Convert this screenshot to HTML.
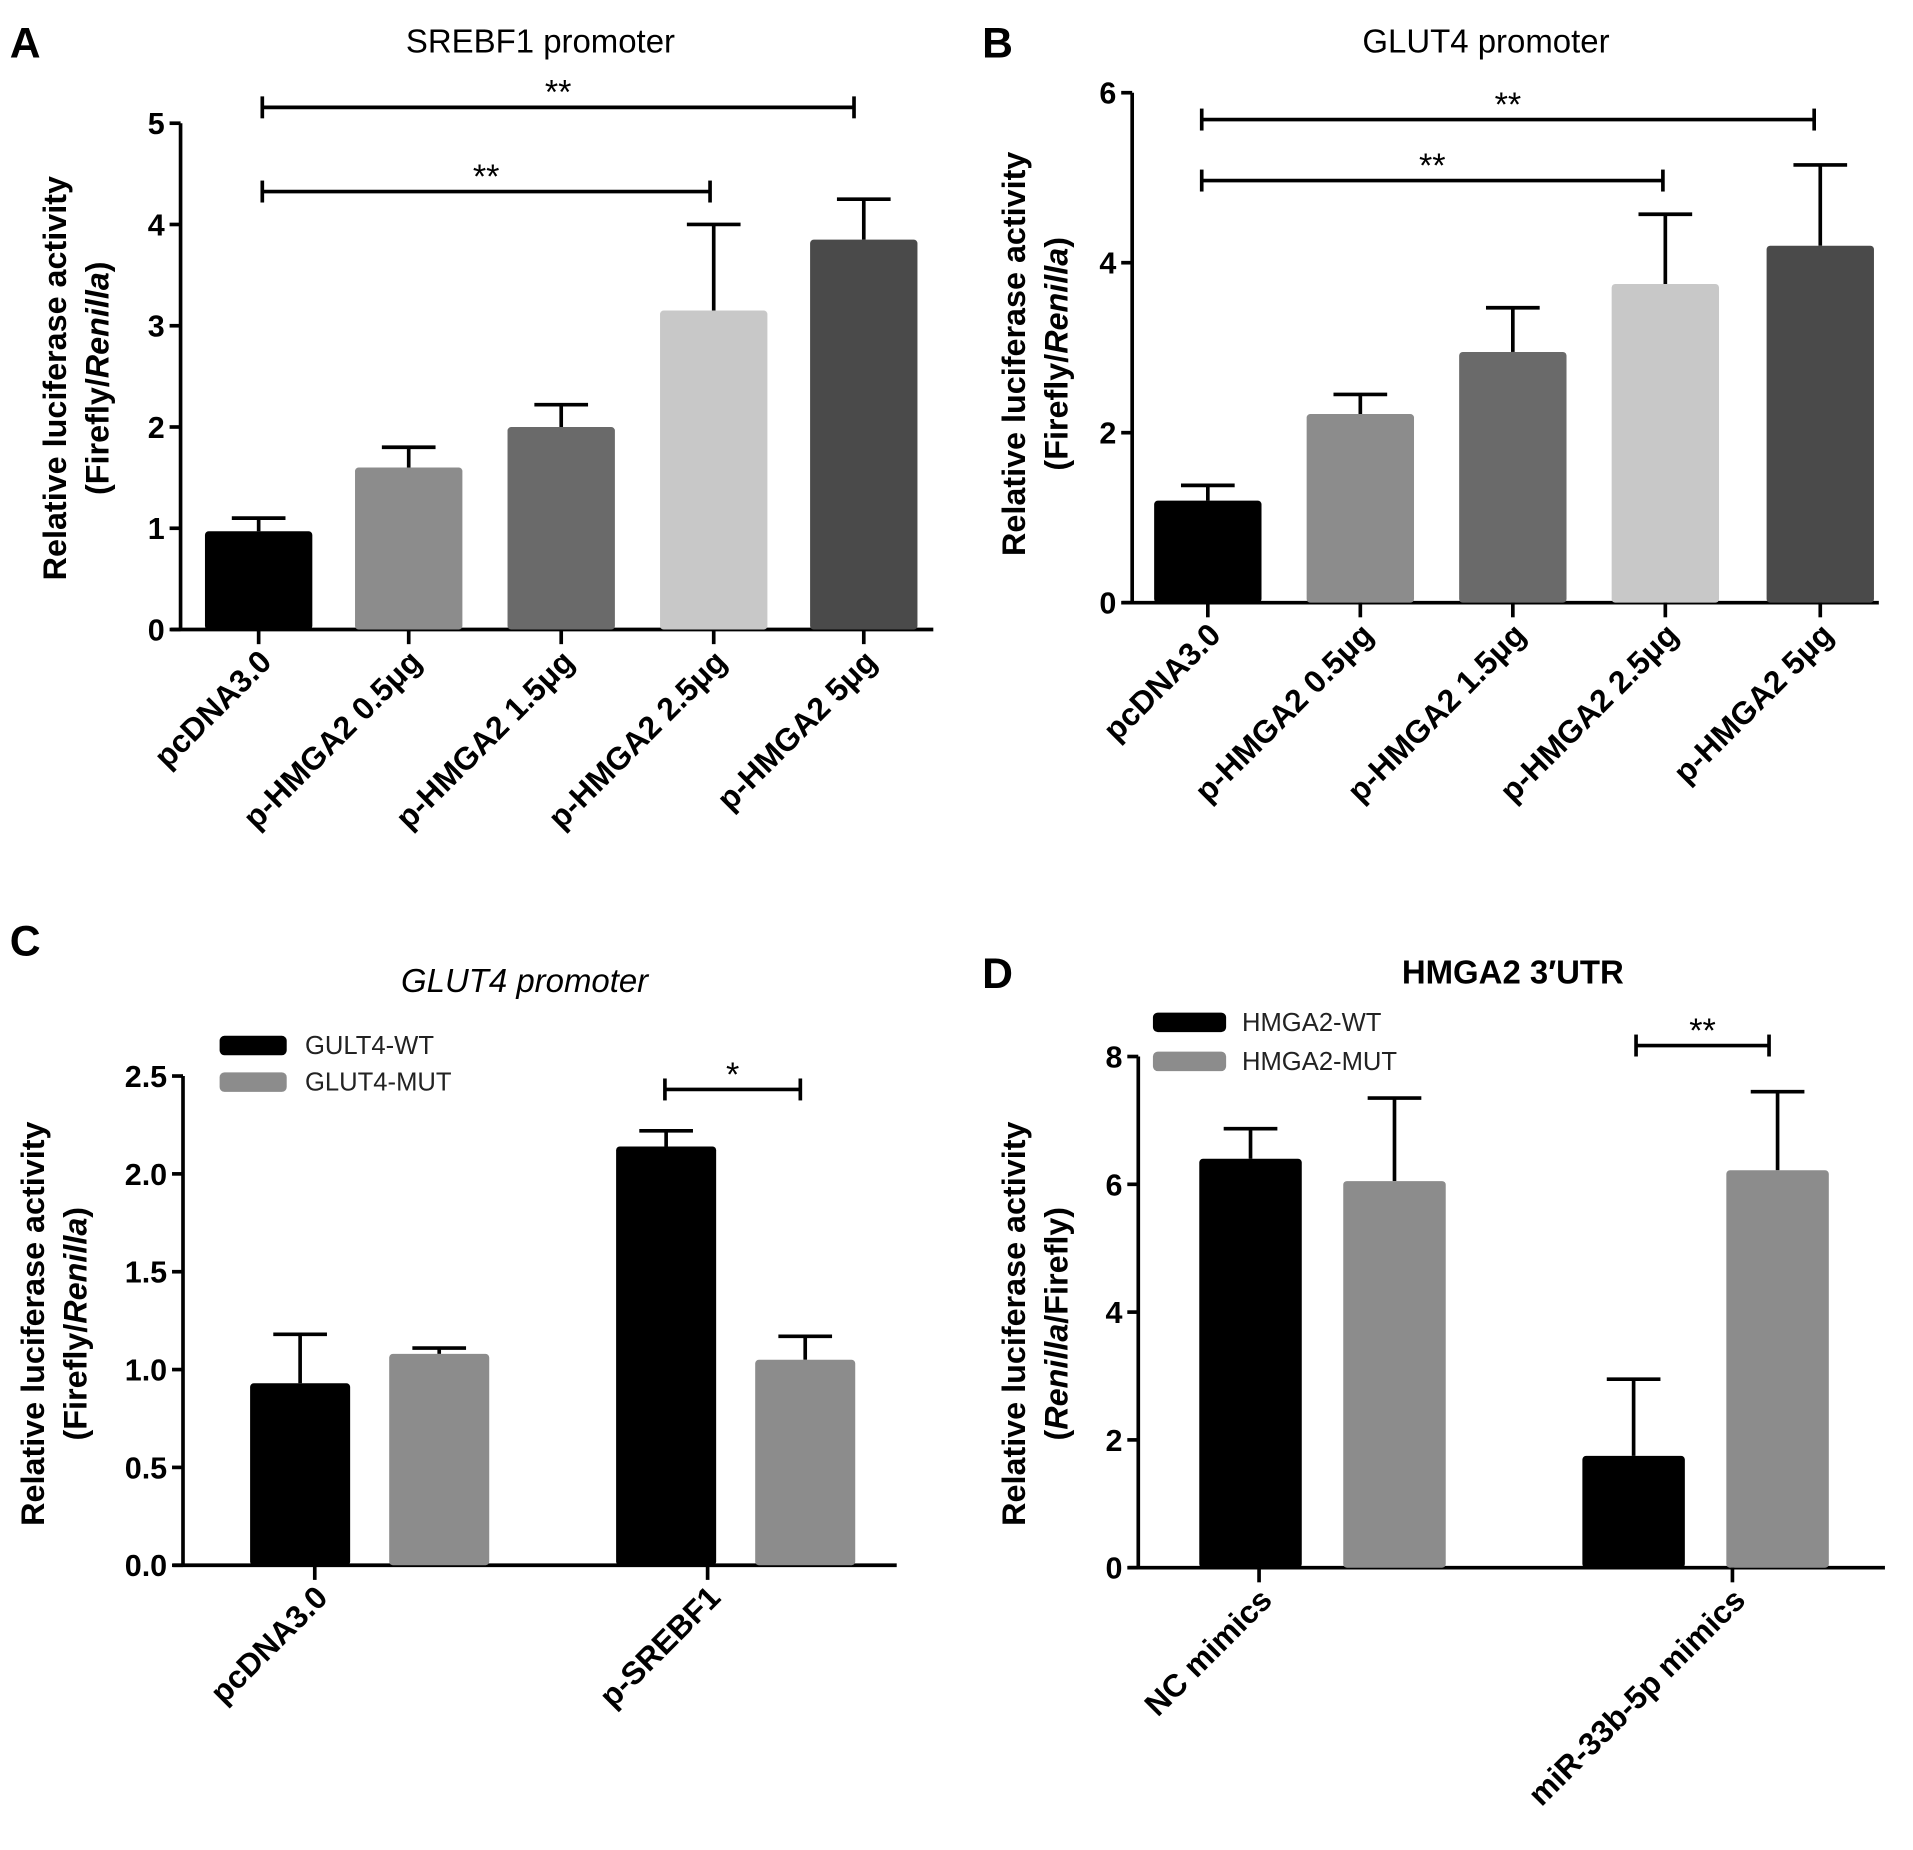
<!DOCTYPE html>
<html><head><meta charset="utf-8"><style>
html,body{margin:0;padding:0;background:#fff}
svg{display:block;font-family:"Liberation Sans",Arial,sans-serif}
</style></head><body>
<svg id="fig" width="1913" height="1850" viewBox="0 0 1568 1516.4" preserveAspectRatio="none" xmlns="http://www.w3.org/2000/svg"></svg>
<script>
// Panel A data
const aCats=["pcDNA3.0","p-HMGA2 0.5\u03bcg","p-HMGA2 1.5\u03bcg","p-HMGA2 2.5\u03bcg","p-HMGA2 5\u03bcg"];
const aVals=[0.97,1.6,2.0,3.15,3.85];
const aErr=[0.13,0.2,0.22,0.85,0.4];
const aTicks=[0,1,2,3,4,5];
// Panel B data
const bCats=["pcDNA3.0","p-HMGA2 0.5\u03bcg","p-HMGA2 1.5\u03bcg","p-HMGA2 2.5\u03bcg","p-HMGA2 5\u03bcg"];
const bVals=[1.2,2.22,2.95,3.75,4.2];
const bErr=[0.18,0.23,0.52,0.82,0.95];
const bTicks=[0,2,4,6];
// Panel C data
const cCats=["pcDNA3.0","p-SREBF1"];
const cWT=[0.93,2.14];
const cWTErr=[0.25,0.08];
const cMUT=[1.08,1.05];
const cMUTErr=[0.03,0.12];
const cTicks=["0.0","0.5","1.0","1.5","2.0","2.5"];
// Panel D data
const dCats=["NC  mimics","miR-33b-5p mimics"];
const dWT=[6.4,1.75];
const dWTErr=[0.47,1.2];
const dMUT=[6.05,6.22];
const dMUTErr=[1.3,1.23];
const dTicks=[0,2,4,6,8];

const svg=document.getElementById('fig');
const NS="http://www.w3.org/2000/svg";
function mk(tag,attrs,parent){const e=document.createElementNS(NS,tag);for(const k in attrs)e.setAttribute(k,attrs[k]);(parent||svg).appendChild(e);return e;}
function txt(s,attrs,parent){const e=mk('text',attrs,parent);e.textContent=s;return e;}

function panel(cfg){
  const g=mk('g',{});
  
  
  const y=v=>cfg.y0-(v-cfg.min)/(cfg.max-cfg.min)*(cfg.y0-cfg.ytop);
  const L=txt(cfg.letter,{x:cfg.lx,y:cfg.ly,'font-size':35,'font-weight':'bold'},g);
  
  const T=txt(cfg.title,{x:cfg.tx,y:cfg.ty,'font-size':27,'text-anchor':'middle','font-weight':cfg.titleBold?'bold':'normal','font-style':cfg.titleItalic?'italic':'normal'},g);
  
  const ya=mk('line',{x1:cfg.ax,y1:cfg.ytop,x2:cfg.ax,y2:cfg.y0,stroke:'#000','stroke-width':3},g);
  
  const xa=mk('line',{x1:cfg.ax-8,y1:cfg.y0,x2:cfg.axEnd,y2:cfg.y0,stroke:'#000','stroke-width':3},g);
  
  cfg.ticks.forEach(t=>{
    const v=parseFloat(t);
    mk('line',{x1:cfg.ax-9,y1:y(v),x2:cfg.ax,y2:y(v),stroke:'#000','stroke-width':3},g);
    const tl=txt(String(t),{x:cfg.ax-13,y:y(v)+9,'font-size':25,'font-weight':'bold','text-anchor':'end'},g);
    
  });
  const yt=mk('text',{transform:`translate(${cfg.ytx},${cfg.yty}) rotate(-90)`,'font-size':26.5,'font-weight':'bold','text-anchor':'middle'},g);
  
  const t1=mk('tspan',{x:0,y:0},yt);t1.textContent='Relative luciferase activity';
  const t2=mk('tspan',{x:0,y:35},yt);
  cfg.ysub.forEach(p=>{const s=mk('tspan',p[1]?{'font-style':'italic'}:{},t2);s.textContent=p[0];});
  cfg.series.forEach(s=>{
    s.vals.forEach((v,i)=>{
      const cx=s.centers[i];
      const top=y(v+s.err[i]);
      const eb=mk('line',{x1:cx,y1:y(v),x2:cx,y2:top,stroke:'#000','stroke-width':3},g);
      
      mk('line',{x1:cx-22,y1:top,x2:cx+22,y2:top,stroke:'#000','stroke-width':3},g);
      const r=mk('rect',{x:cx-cfg.bw/2,y:y(v),width:cfg.bw,height:cfg.y0-y(v),fill:s.colors[i]||s.colors[0],rx:3},g);
      
    });
  });
  cfg.cats.forEach((c,i)=>{
    const tx=cfg.catX[i];
    mk('line',{x1:tx,y1:cfg.y0,x2:tx,y2:cfg.y0+12,stroke:'#000','stroke-width':3},g);
    const lb=txt(c,{transform:`translate(${tx+12},${cfg.y0+28}) rotate(-45)`,'font-size':26,'font-weight':'bold','text-anchor':'end'},g);
    
  });
  cfg.brackets.forEach(b=>{
    const bk=mk('g',{},g);
    
    mk('line',{x1:b[0],y1:b[2],x2:b[1],y2:b[2],stroke:'#000','stroke-width':3},bk);
    mk('line',{x1:b[0],y1:b[2]-9,x2:b[0],y2:b[2]+9,stroke:'#000','stroke-width':3},bk);
    mk('line',{x1:b[1],y1:b[2]-9,x2:b[1],y2:b[2]+9,stroke:'#000','stroke-width':3},bk);
    txt(b[3],{x:(b[0]+b[1])/2,y:b[2]-3,'font-size':28,'text-anchor':'middle'},bk);
  });
  if(cfg.legend){cfg.legend.forEach(l=>{
    const lg=mk('g',{},g);
    
    mk('rect',{x:l[0],y:l[1]-8,width:l[2],height:16,fill:l[3],rx:4},lg);
    txt(l[4],{x:l[5],y:l[1]+7,'font-size':21,fill:'#222'},lg);
  });}
}

const aColors=['#000','#8c8c8c','#6a6a6a','#c8c8c8','#4a4a4a'];
const aCenters=[212,335,460,585,708];
panel({name:'panel-a',letter:'A',lx:8,ly:47,title:'SREBF1 promoter',tx:443,ty:43,ax:148,axEnd:765,y0:516,ytop:101,min:0,max:5,ticks:aTicks,
  ytx:54,yty:310,ysub:[['(Firefly/',0],['Renilla',1],[')',0]],bw:88,
  series:[{vals:aVals,err:aErr,colors:aColors,centers:aCenters}],catX:aCenters,cats:aCats,
  brackets:[[215,700,88,'**'],[215,582,157,'**']]});
const bCenters=[990,1115,1240,1365,1492];
panel({name:'panel-b',letter:'B',lx:805,ly:47,title:'GLUT4 promoter',tx:1218,ty:43,ax:928,axEnd:1540,y0:494,ytop:76,min:0,max:6,ticks:bTicks,
  ytx:840,yty:290,ysub:[['(Firefly/',0],['Renilla',1],[')',0]],bw:88,
  series:[{vals:bVals,err:bErr,colors:aColors,centers:bCenters}],catX:bCenters,cats:bCats,
  brackets:[[985,1487,98,'**'],[985,1363,148,'**']]});
panel({name:'panel-c',letter:'C',lx:8,ly:783,title:'GLUT4 promoter',titleItalic:true,tx:430,ty:813,ax:150,axEnd:735,y0:1283,ytop:882,min:0,max:2.5,ticks:cTicks,
  ytx:36,yty:1085,ysub:[['(Firefly/',0],['Renilla',1],[')',0]],bw:82,
  series:[{vals:cWT,err:cWTErr,colors:['#000'],centers:[246,546]},{vals:cMUT,err:cMUTErr,colors:['#8c8c8c'],centers:[360,660]}],
  catX:[258,580],cats:cCats,
  brackets:[[545,656,893,'*']],
  legend:[[180,857,55,'#000','GULT4-WT',250],[180,887,55,'#8c8c8c','GLUT4-MUT',250]]});
panel({name:'panel-d',letter:'D',lx:805,ly:810,title:'HMGA2 3\u2032UTR',titleBold:true,tx:1240,ty:806,ax:933,axEnd:1545,y0:1285,ytop:866,min:0,max:8,ticks:dTicks,
  ytx:840,yty:1085,ysub:[['(',0],['Renilla',1],['/Firefly)',0]],bw:84,
  series:[{vals:dWT,err:dWTErr,colors:['#000'],centers:[1025,1339]},{vals:dMUT,err:dMUTErr,colors:['#8c8c8c'],centers:[1143,1457]}],
  catX:[1032,1420],cats:dCats,
  brackets:[[1341,1450,857,'**']],
  legend:[[945,838,60,'#000','HMGA2-WT',1018],[945,870,60,'#8c8c8c','HMGA2-MUT',1018]]});
</script>
</body></html>
